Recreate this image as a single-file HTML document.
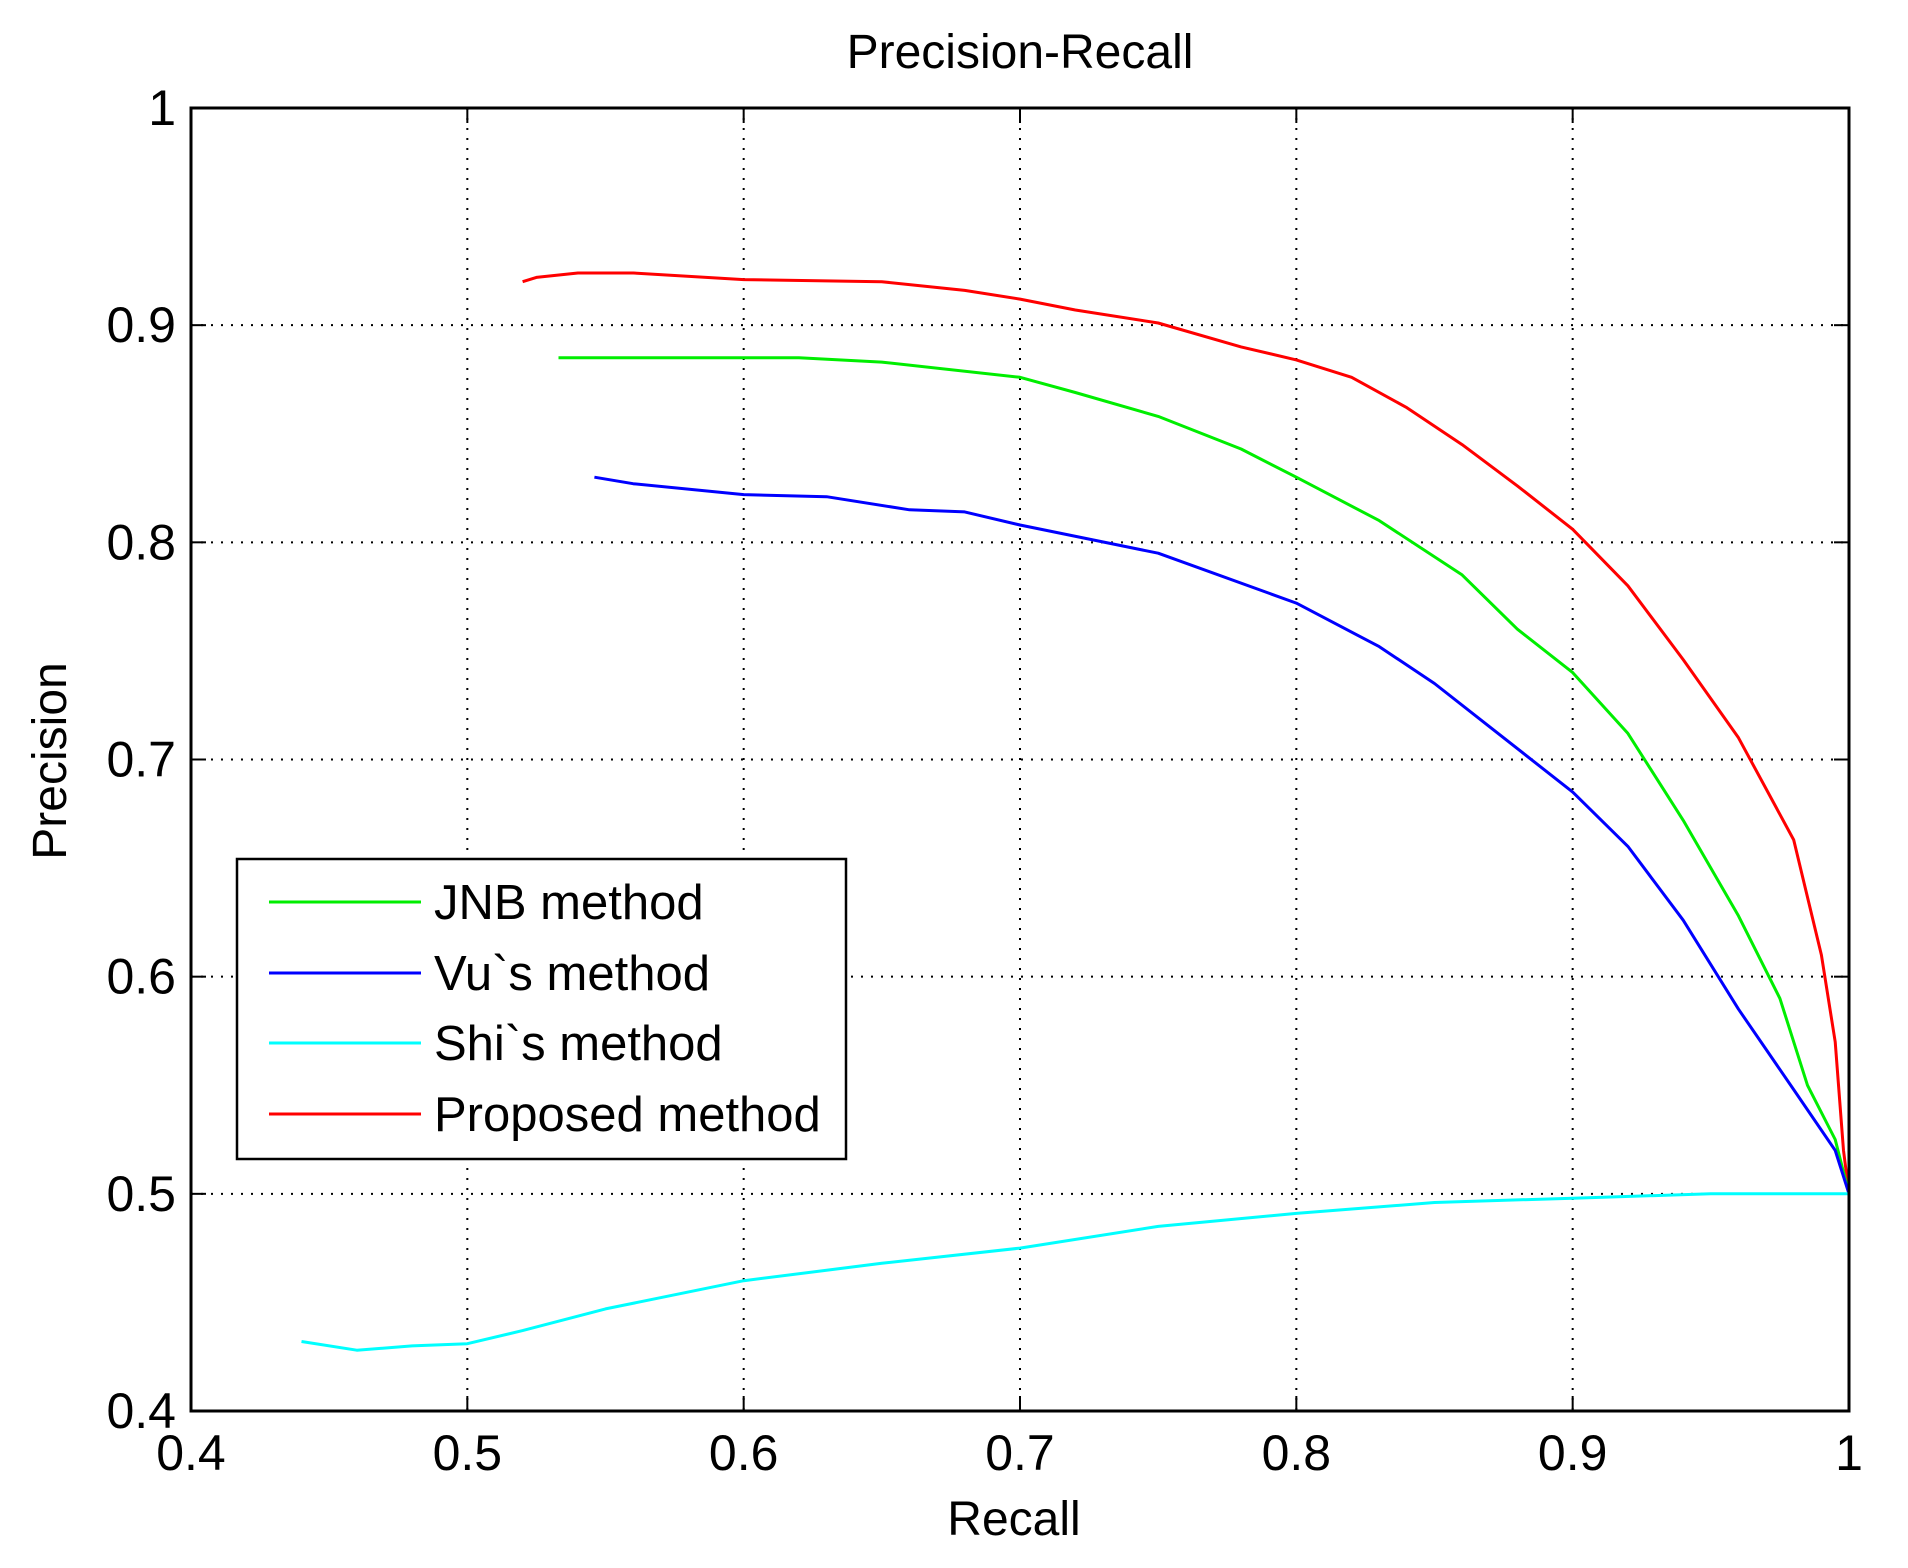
<!DOCTYPE html>
<html><head><meta charset="utf-8"><style>
html,body{margin:0;padding:0;background:#fff;}
svg{display:block;}
text{font-family:"Liberation Sans",sans-serif;fill:#000;}
</style></head><body>
<svg id="s" width="1908" height="1568" xmlns="http://www.w3.org/2000/svg">
<rect width="1908" height="1568" fill="#fff"/>
<g id="grid" stroke="#000" stroke-width="2" stroke-dasharray="2,8"></g>
<g id="ticks" stroke="#000" stroke-width="2"></g>
<g id="lines" fill="none" stroke-width="3" stroke-linejoin="round"></g>
<rect x="191" y="108" width="1658" height="1303" fill="none" stroke="#000" stroke-width="3"/>
<g id="labels" font-size="50"></g>
<text x="1020" y="68" font-size="48" text-anchor="middle">Precision-Recall</text>
<text x="1014" y="1535" font-size="48" text-anchor="middle">Recall</text>
<text transform="translate(66,761) rotate(-90)" font-size="48" text-anchor="middle">Precision</text>
<rect x="237" y="859" width="609" height="300" fill="#fff" stroke="#000" stroke-width="2.5"/>
<g stroke-width="3">
<line x1="269" y1="902" x2="421" y2="902" stroke="#00ee00"/>
<line x1="269" y1="973" x2="421" y2="973" stroke="#0000ff"/>
<line x1="269" y1="1043" x2="421" y2="1043" stroke="#00ffff"/>
<line x1="269" y1="1114" x2="421" y2="1114" stroke="#ff0000"/>
</g>
<g font-size="49">
<text x="434" y="919">JNB method</text>
<text x="434" y="990">Vu`s method</text>
<text x="434" y="1060">Shi`s method</text>
<text x="434" y="1131">Proposed method</text>
</g>
</svg>
<script>
var NS="http://www.w3.org/2000/svg";
function X(r){return 191+(r-0.4)/0.6*1658;}
function Y(p){return 1411-(p-0.4)/0.6*1303;}
function el(t,a,par){var e=document.createElementNS(NS,t);for(var k in a)e.setAttribute(k,a[k]);document.getElementById(par).appendChild(e);return e;}
var v=[0.5,0.6,0.7,0.8,0.9];
v.forEach(function(t){
 el("line",{x1:X(t),y1:108,x2:X(t),y2:1411},"grid");
 el("line",{x1:191,y1:Y(t),x2:1849,y2:Y(t)},"grid");
});
[0.4,0.5,0.6,0.7,0.8,0.9,1].forEach(function(t){
 el("line",{x1:X(t),y1:1411,x2:X(t),y2:1396},"ticks");
 el("line",{x1:X(t),y1:108,x2:X(t),y2:123},"ticks");
 el("line",{x1:191,y1:Y(t),x2:206,y2:Y(t)},"ticks");
 el("line",{x1:1849,y1:Y(t),x2:1834,y2:Y(t)},"ticks");
 var s=(t==1)?"1":t.toFixed(1);
 var a=el("text",{x:X(t),y:1470,"text-anchor":"middle"},"labels");a.textContent=s;
 var b=el("text",{x:176,y:Y(t)+17,"text-anchor":"end"},"labels");b.textContent=s;
});
var D={
"#ff0000":[[0.52,0.92],[0.525,0.922],[0.54,0.924],[0.56,0.924],[0.6,0.921],[0.65,0.92],[0.68,0.916],[0.7,0.912],[0.72,0.907],[0.75,0.901],[0.78,0.89],[0.8,0.884],[0.82,0.876],[0.84,0.862],[0.86,0.845],[0.88,0.826],[0.9,0.806],[0.92,0.78],[0.94,0.746],[0.96,0.71],[0.98,0.663],[0.99,0.61],[0.995,0.57],[0.998,0.52],[1.0,0.5]],
"#00ee00":[[0.533,0.885],[0.62,0.885],[0.65,0.883],[0.7,0.876],[0.72,0.869],[0.75,0.858],[0.78,0.843],[0.8,0.83],[0.83,0.81],[0.86,0.785],[0.88,0.76],[0.9,0.74],[0.92,0.712],[0.94,0.672],[0.96,0.628],[0.975,0.59],[0.985,0.55],[0.995,0.525],[1,0.5]],
"#0000ff":[[0.546,0.83],[0.56,0.827],[0.6,0.822],[0.63,0.821],[0.66,0.815],[0.68,0.814],[0.7,0.808],[0.75,0.795],[0.8,0.772],[0.83,0.752],[0.85,0.735],[0.87,0.715],[0.9,0.685],[0.92,0.66],[0.94,0.626],[0.96,0.585],[0.98,0.548],[0.995,0.52],[1,0.5]],
"#00ffff":[[0.44,0.432],[0.46,0.428],[0.48,0.43],[0.5,0.431],[0.52,0.437],[0.55,0.447],[0.6,0.46],[0.65,0.468],[0.7,0.475],[0.75,0.485],[0.8,0.491],[0.85,0.496],[0.9,0.498],[0.95,0.5],[1,0.5]]
};
for(var c in D){var d=D[c].map(function(p,i){return (i?"L":"M")+X(p[0]).toFixed(1)+","+Y(p[1]).toFixed(1);}).join("");
 el("path",{d:d,stroke:c},"lines");}
</script>
</body></html>
